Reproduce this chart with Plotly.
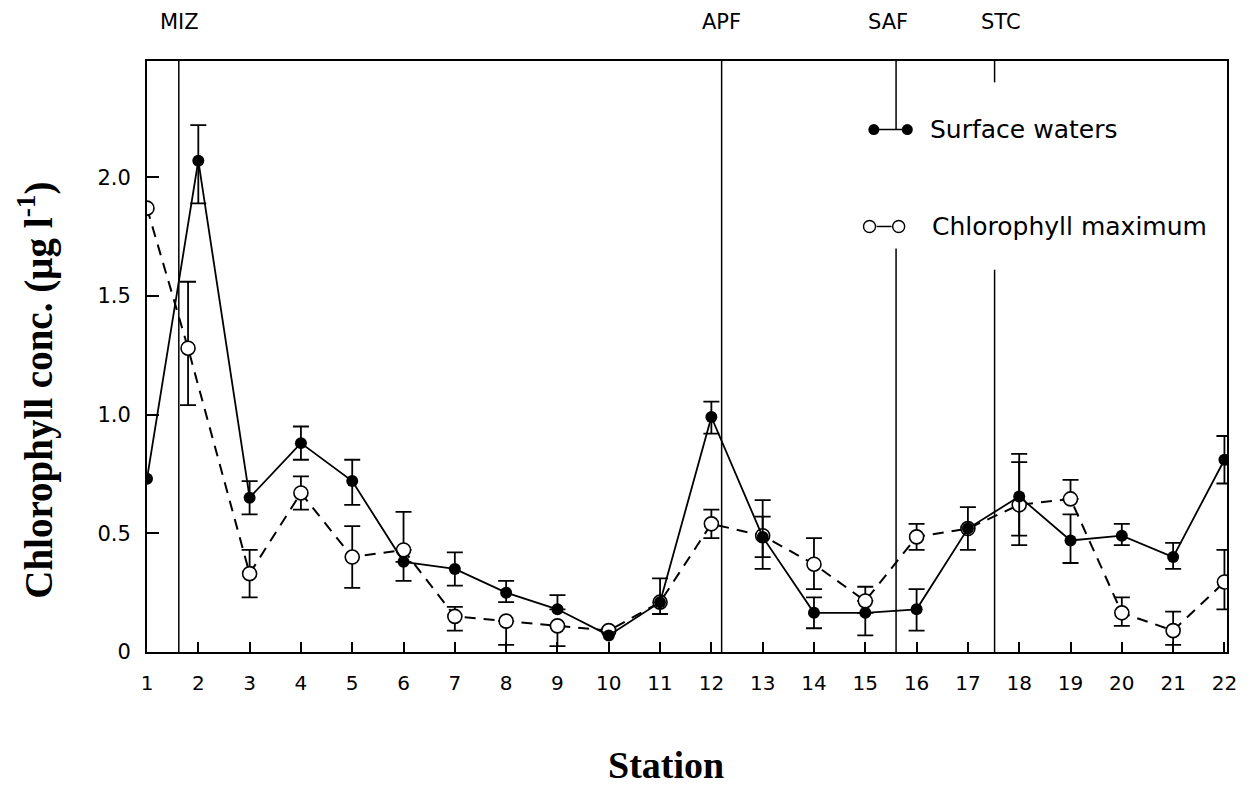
import plotly.graph_objects as go

# ---------------- data ----------------
stations = list(range(1, 23))
surface = [0.73, 2.07, 0.65, 0.88, 0.72, 0.38, 0.35, 0.25, 0.18, 0.07, 0.21,
           0.99, 0.485, 0.165, 0.165, 0.18, 0.52, 0.655, 0.47, 0.49, 0.40, 0.81]
surface_err_plus = [None, 0.15, 0.07, 0.07, 0.09, 0.0, 0.07, 0.05, 0.06, None, 0.10,
                    0.065, 0.155, 0.065, 0.0, 0.085, 0.09, 0.18, 0.11, 0.05, 0.06, 0.10]
surface_err_minus = [None, 0.18, 0.07, 0.07, 0.10, 0.08, 0.07, 0.04, 0.0, None, 0.05,
                     0.07, 0.135, 0.065, 0.095, 0.09, 0.09, 0.205, 0.095, 0.04, 0.05, 0.10]

chlmax_x = [1, 1.8, 3, 4, 5, 6, 7, 8, 9, 10, 11, 12, 13, 14, 15, 16, 17, 18, 19, 20, 21, 22]
chlmax = [1.87, 1.28, 0.33, 0.67, 0.40, 0.43, 0.15, 0.13, 0.11, 0.09, 0.21,
          0.54, 0.49, 0.37, 0.215, 0.485, 0.52, 0.62, 0.645, 0.165, 0.09, 0.295]
chlmax_err_plus = [None, 0.28, 0.10, 0.07, 0.13, 0.16, 0.04, 0.0, 0.0, None, None,
                   0.06, 0.08, 0.11, 0.06, 0.055, None, 0.18, 0.08, 0.065, 0.08, 0.135]
chlmax_err_minus = [None, 0.24, 0.10, 0.07, 0.13, 0.0, 0.06, 0.10, 0.085, None, None,
                    0.06, 0.09, 0.105, 0.0, 0.055, None, 0.13, 0.0, 0.055, 0.06, 0.115]

y_tickvals = [0, 0.5, 1.0, 1.5, 2.0]
y_ticktext = ["0", "0.5", "1.0", "1.5", "2.0"]

front_names = ["MIZ", "APF", "SAF", "STC"]
front_pos = [1.62, 12.2, 15.6, 17.52]
front_label_pos = [1.64, 12.2, 15.44, 17.64]

# ---------------- figure ----------------
fig = go.Figure()


def err_trace(xs, ys, plus, minus):
    idx = [i for i in range(len(xs)) if plus[i] is not None]
    return go.Scatter(
        x=[xs[i] for i in idx], y=[ys[i] for i in idx], mode="markers",
        marker=dict(size=1, color="rgba(0,0,0,0)"),
        error_y=dict(type="data", symmetric=False,
                     array=[plus[i] for i in idx],
                     arrayminus=[minus[i] for i in idx],
                     color="black", thickness=1.8, width=8),
        showlegend=False, hoverinfo="skip")


fig.add_trace(err_trace(chlmax_x, chlmax, chlmax_err_plus, chlmax_err_minus))
fig.add_trace(go.Scatter(
    x=chlmax_x, y=chlmax, mode="lines+markers", name="Chlorophyll maximum",
    line=dict(color="black", width=2, dash="11px,8px"),
    marker=dict(symbol="circle", size=14, color="white",
                line=dict(color="black", width=1.6)),
    showlegend=False))
fig.add_trace(err_trace(stations, surface, surface_err_plus, surface_err_minus))
fig.add_trace(go.Scatter(
    x=stations, y=surface, mode="lines+markers", name="Surface waters",
    line=dict(color="black", width=1.8),
    marker=dict(symbol="circle", size=12, color="black"),
    showlegend=False))

# front lines
shapes = []
ytop = 2.49
for name, xp in zip(front_names, front_pos):
    if name in ("MIZ", "APF"):
        shapes.append(dict(type="line", xref="x", yref="y", x0=xp, x1=xp, y0=0, y1=ytop,
                           line=dict(color="black", width=1.5)))
saf = front_pos[2]
shapes.append(dict(type="line", xref="x", yref="y", x0=saf, x1=saf, y0=ytop, y1=2.20,
                   line=dict(color="black", width=1.5)))
shapes.append(dict(type="line", xref="x", yref="y", x0=saf, x1=saf, y0=0, y1=1.70,
                   line=dict(color="black", width=1.5)))
stc = front_pos[3]
shapes.append(dict(type="line", xref="x", yref="y", x0=stc, x1=stc, y0=ytop, y1=2.40,
                   line=dict(color="black", width=1.5)))
shapes.append(dict(type="line", xref="x", yref="y", x0=stc, x1=stc, y0=0, y1=1.61,
                   line=dict(color="black", width=1.5)))


def circle(xp, yp, d, fill, lw):
    r = d / 2
    return dict(type="circle", xref="paper", yref="paper", xsizemode="pixel",
                ysizemode="pixel", xanchor=xp, yanchor=yp, x0=-r, x1=r, y0=-r, y1=r,
                fillcolor=fill, line=dict(color="black", width=lw))


ly1 = 0.884
ly2 = 0.72
shapes.append(dict(type="line", xref="paper", yref="paper", x0=0.673, x1=0.704,
                   y0=ly1, y1=ly1, line=dict(color="black", width=1.5)))
shapes.append(circle(0.673, ly1, 11, "black", 0))
shapes.append(circle(0.704, ly1, 11, "black", 0))
shapes.append(dict(type="line", xref="paper", yref="paper", x0=0.6755, x1=0.6895,
                   y0=ly2, y1=ly2, line=dict(color="black", width=1.5)))
shapes.append(circle(0.669, ly2, 12, "white", 1.4))
shapes.append(circle(0.696, ly2, 12, "white", 1.4))

annotations = []
for name, xp in zip(front_names, front_label_pos):
    annotations.append(dict(text=name, xref="x", yref="paper", x=xp, y=1, yshift=39,
                            showarrow=False, xanchor="center", yanchor="middle",
                            font=dict(family="DejaVu Sans", size=21, color="black")))
annotations.append(dict(text="Surface waters", xref="paper", yref="paper", x=0.723, y=ly1,
                        xanchor="left", yanchor="middle", showarrow=False,
                        font=dict(family="DejaVu Sans", size=25, color="black")))
annotations.append(dict(text="Chlorophyll maximum", xref="paper", yref="paper", x=0.725, y=ly2,
                        xanchor="left", yanchor="middle", showarrow=False,
                        font=dict(family="DejaVu Sans", size=25, color="black")))
annotations.append(dict(text="<b>Chlorophyll conc. (µg l<sup>-1</sup>)</b>", xref="paper",
                        yref="paper", x=0, xshift=-111, y=0.442, textangle=-90,
                        xanchor="center", yanchor="middle", showarrow=False,
                        font=dict(family="Liberation Serif", size=39, color="black")))
annotations.append(dict(text="<b>Station</b>", xref="paper", yref="paper", x=0.481, y=0,
                        yshift=-113, xanchor="center", yanchor="middle", showarrow=False,
                        font=dict(family="Liberation Serif", size=38, color="black")))

# page body adds an 8px margin: figure sized/offset so the plot area lands at
# left 147, right 1227, top 61, bottom 652 in the window
fig.update_layout(
    width=1245, height=781,
    margin=dict(l=139, r=26, t=53, b=137),
    paper_bgcolor="white", plot_bgcolor="white",
    shapes=shapes, annotations=annotations,
    showlegend=False,
    xaxis=dict(range=[1, 22.05], tickvals=stations, ticktext=[str(s) for s in stations],
               ticks="inside", ticklen=10, tickwidth=1.5, tickcolor="black",
               showline=True, linewidth=2, linecolor="black", mirror=True,
               showgrid=False, zeroline=False, ticklabelstandoff=12,
               tickfont=dict(family="DejaVu Sans", size=20, color="black")),
    yaxis=dict(range=[0, 2.49], tickvals=y_tickvals, ticktext=y_ticktext,
               ticks="inside", ticklen=12, tickwidth=1.5, tickcolor="black",
               showline=True, linewidth=2, linecolor="black", mirror=True,
               showgrid=False, zeroline=False, ticklabelstandoff=10,
               tickfont=dict(family="DejaVu Sans", size=21, color="black")),
)

fig.write_html("out.html")
